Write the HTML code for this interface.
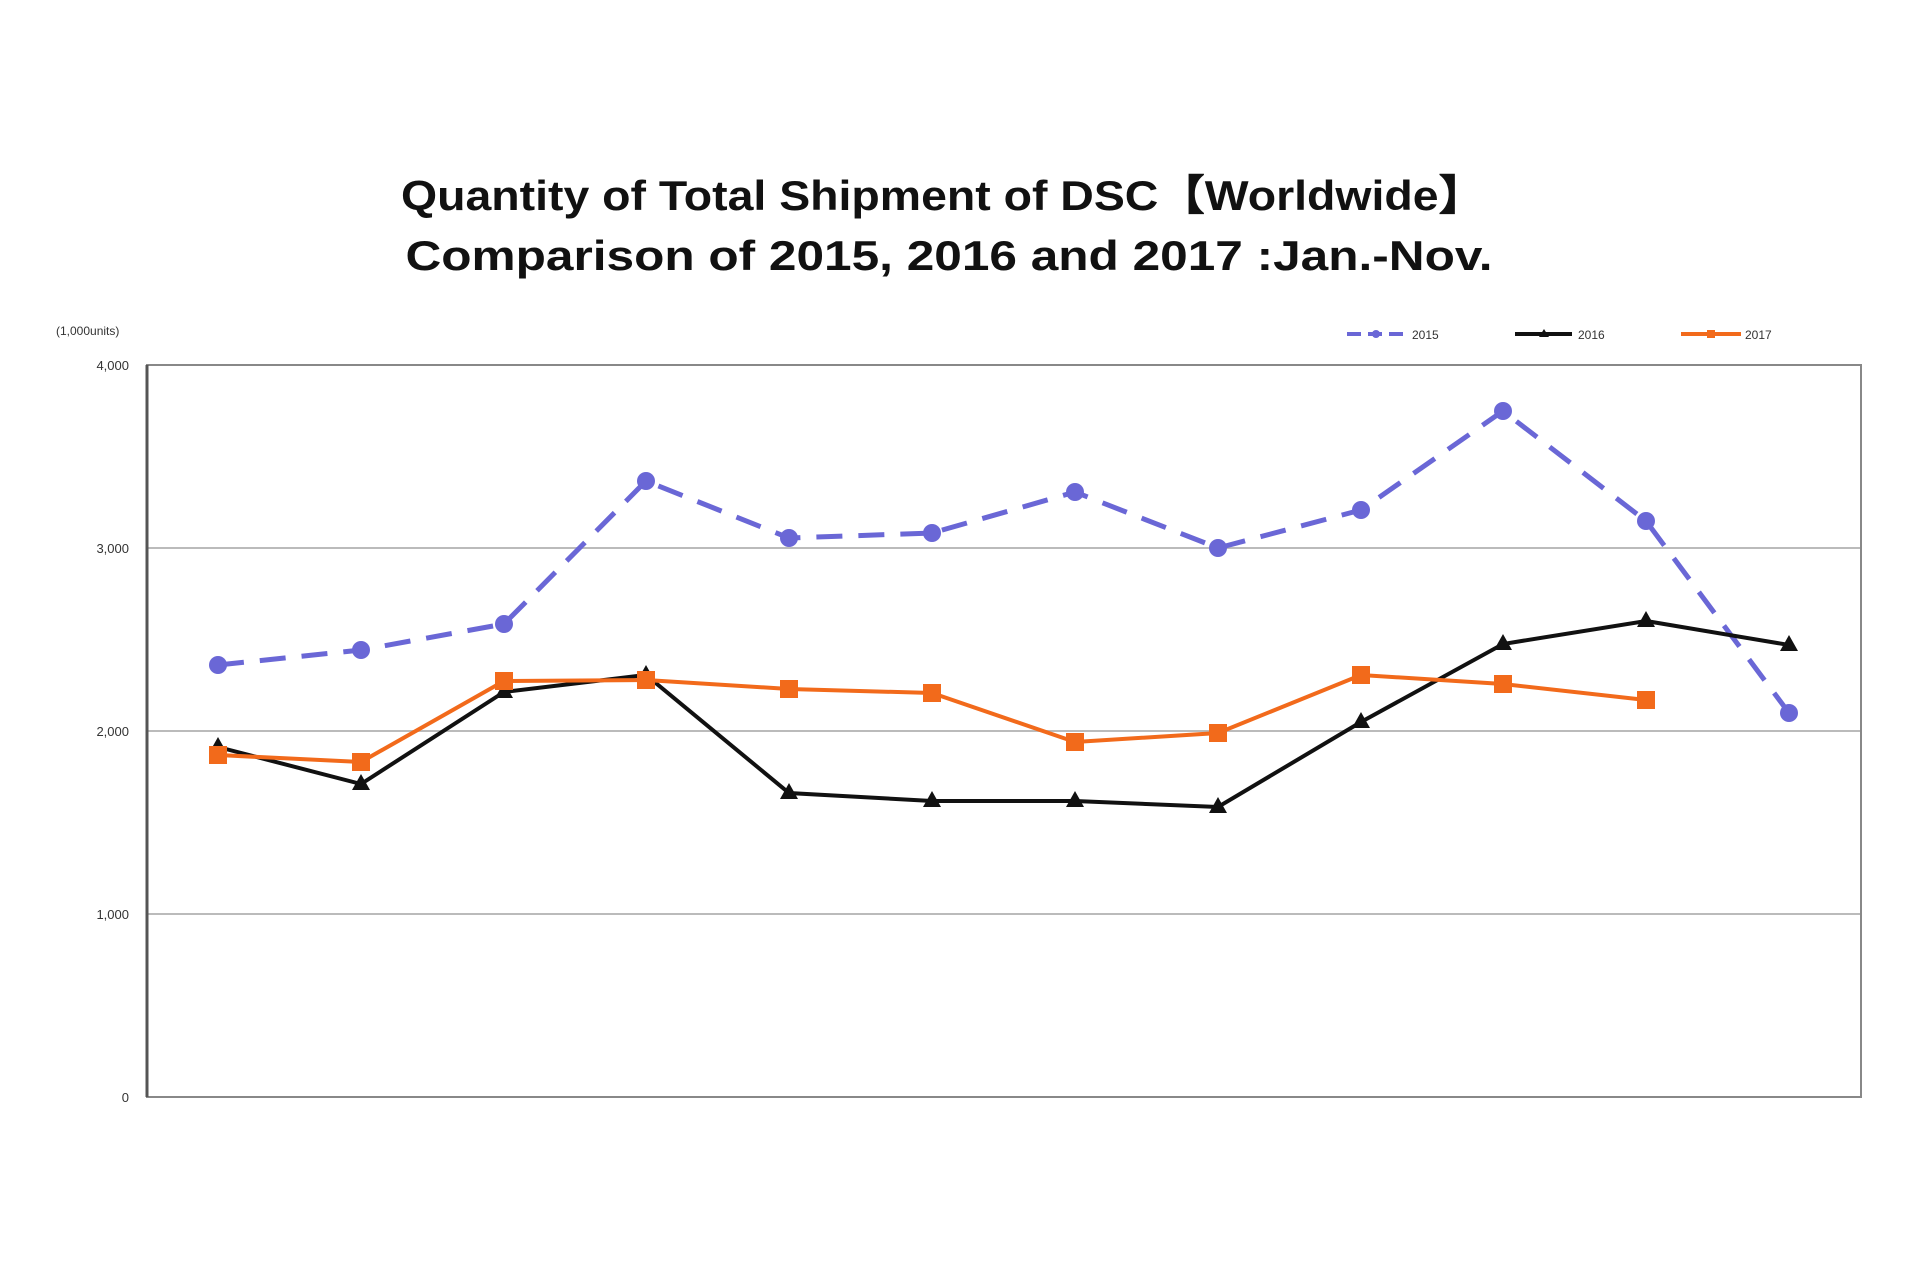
<!DOCTYPE html>
<html><head><meta charset="utf-8"><style>body{margin:0;background:#fff}svg{display:block}</style></head><body>
<svg width="1920" height="1280" xmlns="http://www.w3.org/2000/svg" font-family="Liberation Sans, sans-serif">
<rect width="1920" height="1280" fill="#fff"/>
<text x="943" y="210" text-anchor="middle" font-size="42" font-weight="bold" fill="#111" textLength="1084" lengthAdjust="spacingAndGlyphs">Quantity of Total Shipment of DSC【Worldwide】</text>
<text x="949" y="270" text-anchor="middle" font-size="42" font-weight="bold" fill="#111" textLength="1087" lengthAdjust="spacingAndGlyphs">Comparison of 2015, 2016 and 2017 :Jan.-Nov.</text>
<text x="56" y="335" font-size="12" fill="#333">(1,000units)</text>
<g font-size="13" fill="#333" text-anchor="end">
<text x="129" y="370">4,000</text><text x="129" y="553">3,000</text><text x="129" y="736">2,000</text><text x="129" y="919">1,000</text><text x="129" y="1102">0</text>
</g>
<g stroke="#bbb" stroke-width="2">
<line x1="147" y1="548" x2="1861" y2="548"/><line x1="147" y1="731" x2="1861" y2="731"/><line x1="147" y1="914" x2="1861" y2="914"/>
</g>
<rect x="147" y="365" width="1714" height="732" fill="none" stroke="#888" stroke-width="2"/>
<line x1="147" y1="365" x2="147" y2="1097" stroke="#555" stroke-width="3"/>
<!-- legend -->
<line x1="1347" y1="334" x2="1405" y2="334" stroke="#6a67d6" stroke-width="4" stroke-dasharray="14,7"/><circle cx="1376" cy="334" r="4" fill="#6a67d6"/>
<text x="1412" y="339" font-size="12" fill="#333">2015</text>
<line x1="1515" y1="334" x2="1572" y2="334" stroke="#111" stroke-width="4"/><polygon points="1544,329 1549,337 1539,337" fill="#111"/>
<text x="1578" y="339" font-size="12" fill="#333">2016</text>
<line x1="1681" y1="334" x2="1741" y2="334" stroke="#f26a1b" stroke-width="4"/><rect x="1707" y="330" width="8" height="8" fill="#f26a1b"/>
<text x="1745" y="339" font-size="12" fill="#333">2017</text>
<!-- 2015 -->
<polyline fill="none" stroke="#6a67d6" stroke-width="5" stroke-dasharray="26,16" points="218,665 361,650 504,624 646,481 789,538 932,533 1075,492 1218,548 1361,510 1503,411 1646,521 1789,713"/>
<g fill="#6a67d6">
<circle cx="218" cy="665" r="9"/><circle cx="361" cy="650" r="9"/><circle cx="504" cy="624" r="9"/><circle cx="646" cy="481" r="9"/><circle cx="789" cy="538" r="9"/><circle cx="932" cy="533" r="9"/><circle cx="1075" cy="492" r="9"/><circle cx="1218" cy="548" r="9"/><circle cx="1361" cy="510" r="9"/><circle cx="1503" cy="411" r="9"/><circle cx="1646" cy="521" r="9"/><circle cx="1789" cy="713" r="9"/>
</g>
<!-- 2016 -->
<polyline fill="none" stroke="#111" stroke-width="4" points="218,747 361,784 504,692 646,675 789,793 932,801 1075,801 1218,807 1361,722 1503,644 1646,621 1789,645"/>
<g fill="#111">
<polygon points="218,737 227,753 209,753"/><polygon points="361,774 370,790 352,790"/><polygon points="504,682 513,698 495,698"/><polygon points="646,665 655,681 637,681"/><polygon points="789,783 798,799 780,799"/><polygon points="932,791 941,807 923,807"/><polygon points="1075,791 1084,807 1066,807"/><polygon points="1218,797 1227,813 1209,813"/><polygon points="1361,712 1370,728 1352,728"/><polygon points="1503,634 1512,650 1494,650"/><polygon points="1646,611 1655,627 1637,627"/><polygon points="1789,635 1798,651 1780,651"/>
</g>
<!-- 2017 -->
<polyline fill="none" stroke="#f26a1b" stroke-width="4" points="218,755 361,762 504,681 646,680 789,689 932,693 1075,742 1218,733 1361,675 1503,684 1646,700"/>
<g fill="#f26a1b">
<rect x="209" y="746" width="18" height="18"/><rect x="352" y="753" width="18" height="18"/><rect x="495" y="672" width="18" height="18"/><rect x="637" y="671" width="18" height="18"/><rect x="780" y="680" width="18" height="18"/><rect x="923" y="684" width="18" height="18"/><rect x="1066" y="733" width="18" height="18"/><rect x="1209" y="724" width="18" height="18"/><rect x="1352" y="666" width="18" height="18"/><rect x="1494" y="675" width="18" height="18"/><rect x="1637" y="691" width="18" height="18"/>
</g>
</svg>
</body></html>
